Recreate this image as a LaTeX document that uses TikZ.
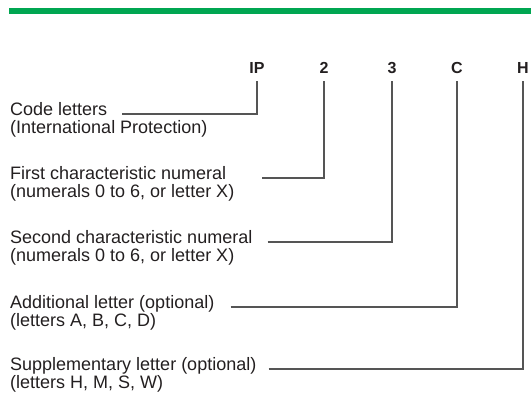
\documentclass[tikz,border=0pt]{standalone}
\usepackage{fontspec}
\setmainfont{Liberation Sans}
\definecolor{ipgreen}{HTML}{00A651}
\definecolor{ipgrey}{HTML}{555555}
\definecolor{iptext}{HTML}{231F20}

\begin{document}
\begin{tikzpicture}[x=1pt,y=1pt,
  code/.style={font=\fontsize{16}{16}\selectfont\bfseries, text=iptext, inner sep=0pt, anchor=base},
  label/.style={font=\fontsize{18}{18}\selectfont, text=iptext, inner sep=0pt, anchor=base west},
  lead/.style={draw=ipgrey, line width=1.3pt}]
\useasboundingbox (0,0) rectangle (531,394); %Same size as the reference
\fill[ipgreen] (9,380) rectangle (531,386); %Green bar at the top
% code letters
\node[code] (ip) at (257,320) {IP};
\node[code] (two) at (324,320) {2};
\node[code] (three) at (392,320) {3};
\node[code] (addc) at (457,320) {C};
\node[code] (supph) at (523,320) {H};
% labels, two lines each
\node[label] (codeA) at (10,278) {Code letters};
\node[label] (codeB) at (10,260) {(International Protection)};
\node[label] (firstA) at (10,214) {First characteristic numeral};
\node[label] (firstB) at (10,196) {(numerals 0 to 6, or letter X)};
\node[label] (secondA) at (10,150) {Second characteristic numeral};
\node[label] (secondB) at (10,132) {(numerals 0 to 6, or letter X)};
\node[label] (addA) at (10,85) {Additional letter (optional)};
\node[label] (addB) at (10,67) {(letters A, B, C, D)};
\node[label] (suppA) at (10,23) {Supplementary letter (optional)};
\node[label] (suppB) at (10,5) {(letters H, M, S, W)};
% leader lines
\draw[lead] ([shift={(15pt,2pt)}]codeA.base east) -| ([yshift=-7pt]ip.base); %IP
\draw[lead] ([shift={(36pt,2pt)}]firstA.base east) -| ([yshift=-7pt]two.base); %First numeral
\draw[lead] ([shift={(15pt,2pt)}]secondA.base east) -| ([yshift=-7pt]three.base); %Second numeral
\draw[lead] ([shift={(16pt,2pt)}]addA.base east) -| ([yshift=-7pt]addc.base); %Additional letter
\draw[lead] ([shift={(12pt,2pt)}]suppA.base east) -| ([yshift=-7pt]supph.base); %Supplementary letter
\end{tikzpicture}
\end{document}
